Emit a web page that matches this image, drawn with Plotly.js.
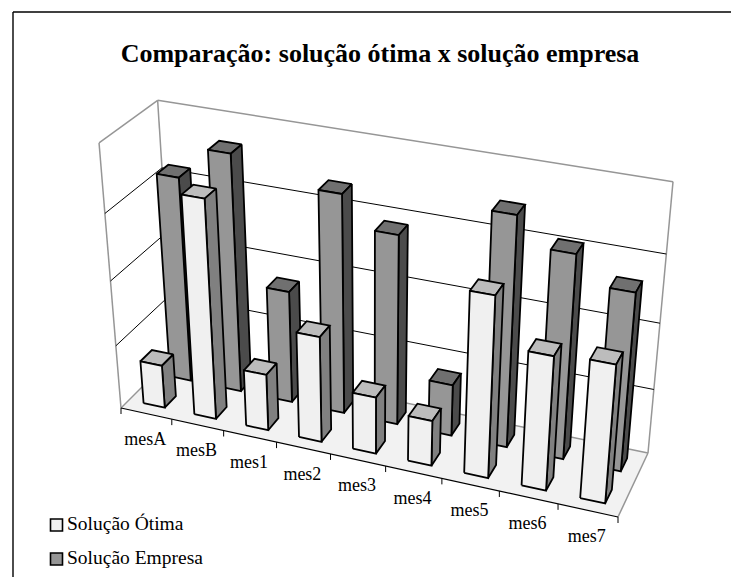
<!DOCTYPE html>
<html><head><meta charset="utf-8">
<script src="https://cdn.plot.ly/plotly-3.0.1.min.js"></script>
<style>html,body{margin:0;padding:0;background:#fff}#c{width:731px;height:578px}</style>
</head><body><div id="c"></div>
<script>
const categories = ["mesA","mesB","mes1","mes2","mes3","mes4","mes5","mes6","mes7"];
const solucaoOtima = [0.68,3.35,0.88,1.63,0.88,0.7,2.72,2.02,2.07];
const solucaoEmpresa = [3.18,3.66,1.75,3.35,2.9,0.8,3.47,3.07,2.68];
const seriesNames = ["Solução Ótima","Solução Empresa"];
const axisUnits = 4;

// Perspective frame of the 3D plot box
const A=[121,408],B=[618,517],C=[174,355],D=[648,453];
const vertW=-0.0803, vertV=[-29.9,-276.5];
function quad(p0,p1,p2,p3){
  const d1=[p1[0]-p2[0],p1[1]-p2[1]],d2=[p3[0]-p2[0],p3[1]-p2[1]];
  const s=[p0[0]-p1[0]+p2[0]-p3[0],p0[1]-p1[1]+p2[1]-p3[1]];
  const det=d1[0]*d2[1]-d2[0]*d1[1];
  return [(s[0]*d2[1]-d2[0]*s[1])/det,(d1[0]*s[1]-s[0]*d1[1])/det];
}
const [p,q]=quad(A,B,D,C);
function proj(u,v,h){
  const w=1+p*u+q*v+vertW*h;
  return [0,1].map(i=>(A[i]+(B[i]*(1+p)-A[i])*u+(C[i]*(1+q)-A[i])*v+vertV[i]*h)/w);
}
const traces=[];
function poly(pts,fill,lw,lc){
  const c=pts.map(a=>proj(a[0],a[1],a[2]));
  traces.push({type:"scatter",mode:"lines",x:c.map(a=>a[0]).concat(c[0][0]),y:c.map(a=>a[1]).concat(c[0][1]),
    fill:"toself",fillcolor:fill,line:{color:lc||"#000",width:lw===undefined?1.8:lw},hoverinfo:"skip",showlegend:false});
}
function seg(a,b,color,w){
  const c=[proj(...a),proj(...b)];
  traces.push({type:"scatter",mode:"lines",x:c.map(k=>k[0]),y:c.map(k=>k[1]),line:{color:color,width:w},hoverinfo:"skip",showlegend:false});
}
poly([[0,0,0],[1,0,0],[1,1,0],[0,1,0]],"#f2f2f2",0,"#f2f2f2");
const wallGray="#969696";
seg([0,0,0],[0,0,1],wallGray,1.5);
seg([0,0,1],[0,1,1],wallGray,1.5);
seg([0,1,1],[1,1,1],wallGray,1.5);
seg([1,1,1],[1,1,0],wallGray,1.5);
seg([0,1,0],[0,1,1],wallGray,1.5);
seg([1,0,0],[1,1,0],wallGray,1.5);
seg([0,0,0],[0,1,0],wallGray,1.5);
seg([0,1,0],[1,1,0],wallGray,1.5);
for(let k=1;k<axisUnits;k++){
  seg([0,0,k/axisUnits],[0,1,k/axisUnits],"#000",1);
  seg([0,1,k/axisUnits],[1,1,k/axisUnits],"#000",1);
}
const n=categories.length;
seg([0,0,0],[1,0,0],"#000",1.2);
for(let i=0;i<=n;i++){ const a=proj(i/n,0,0);
  traces.push({type:"scatter",mode:"lines",x:[a[0],a[0]],y:[a[1],a[1]+6],line:{color:"#000",width:1},hoverinfo:"skip",showlegend:false});
}
function bar(i,row,val,cols){
  const u0=(i+0.29)/n,u1=(i+0.71)/n,v0=(row+0.29)/2,v1=(row+0.71)/2,h=val/axisUnits;
  poly([[u0,v0,h],[u1,v0,h],[u1,v1,h],[u0,v1,h]],cols[1]);
  poly([[u1,v0,0],[u1,v1,0],[u1,v1,h],[u1,v0,h]],cols[2]);
  poly([[u0,v0,0],[u1,v0,0],[u1,v0,h],[u0,v0,h]],cols[0]);
}
const whiteC=["#f0f0f0","#bcbcbc","#808080"],grayC=["#969696","#707070","#4b4b4b"];
solucaoEmpresa.forEach((val,i)=>bar(i,1,val,grayC));
solucaoOtima.forEach((val,i)=>bar(i,0,val,whiteC));
traces.push({type:"scatter",mode:"text",text:categories,
  x:categories.map((c,i)=>proj((i+0.5)/n,0,0)[0]-1),
  y:categories.map((c,i)=>proj((i+0.5)/n,0,0)[1]+27),
  textfont:{family:"Liberation Serif",size:18,color:"#000"},hoverinfo:"skip",showlegend:false});
// legend entries
[[seriesNames[0],525,whiteC[0]],[seriesNames[1],559,grayC[0]]].forEach(e=>{
  traces.push({type:"scatter",mode:"markers",x:[56.5],y:[e[1]],name:e[0],hoverinfo:"skip",showlegend:false,
    marker:{symbol:"square",size:12,color:e[2],line:{color:"#000",width:1.6}}});
  traces.push({type:"scatter",mode:"text",x:[67],y:[e[1]],text:[e[0]],textposition:"middle right",name:e[0],
    textfont:{family:"Liberation Serif",size:19.5,color:"#000"},hoverinfo:"skip",showlegend:false});
});
Plotly.newPlot("c",traces,{
  width:731,height:578,margin:{l:0,r:0,t:0,b:0},paper_bgcolor:"#fff",plot_bgcolor:"#fff",
  title:{text:"<b>Comparação: solução ótima x solução empresa</b>",x:380/731,xanchor:"center",y:1-53/578,yanchor:"middle",font:{family:"Liberation Serif",size:26,color:"#000"}},
  xaxis:{range:[0,731],visible:false,fixedrange:true},
  yaxis:{range:[578,0],visible:false,fixedrange:true},
  showlegend:false,
  shapes:[
    {type:"line",xref:"paper",yref:"paper",x0:13/731,x1:1,y0:1-12/578,y1:1-12/578,line:{color:"#000",width:1.4}},
    {type:"line",xref:"paper",yref:"paper",x0:13/731,x1:13/731,y0:1-12/578,y1:1/578,line:{color:"#000",width:1.4}}
  ]
},{staticPlot:true,displayModeBar:false});
</script></body></html>
